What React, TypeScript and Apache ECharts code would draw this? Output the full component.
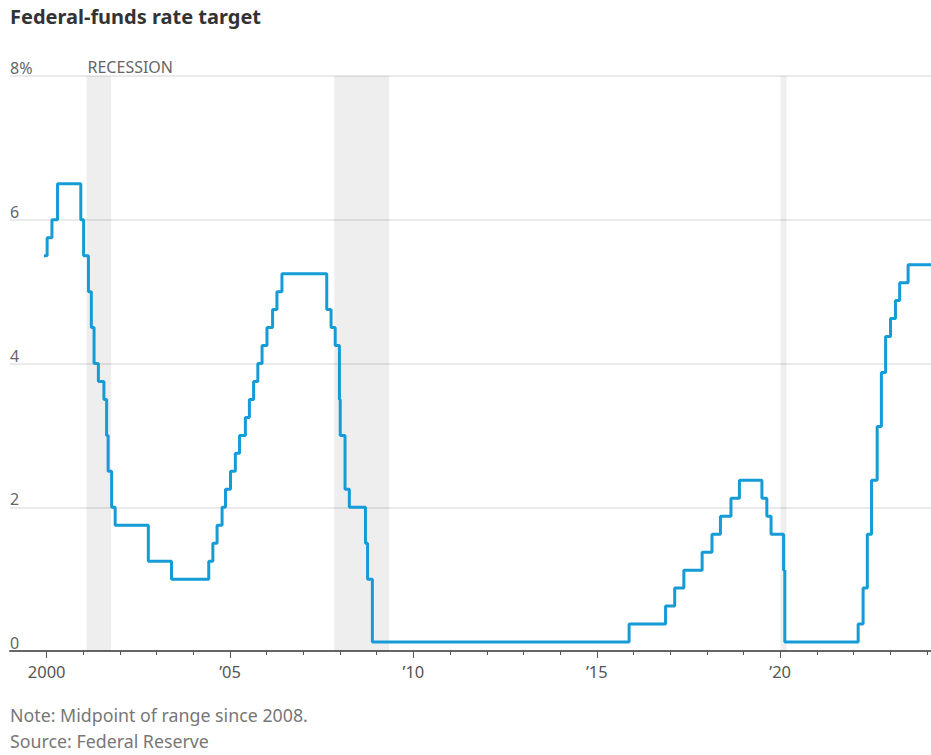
import React, { useEffect, useRef } from "react";
import * as echarts from "echarts";

// Fed funds target (midpoint of the target range from Dec. 2008), effective dates
const changeDates: string[] = [
  "2000-01-01", "2000-02-02", "2000-03-21", "2000-05-16",
  "2001-01-03", "2001-01-31", "2001-03-20", "2001-04-18", "2001-05-15", "2001-06-27",
  "2001-08-21", "2001-09-17", "2001-10-02", "2001-11-06", "2001-12-11",
  "2002-11-06", "2003-06-25",
  "2004-06-30", "2004-08-10", "2004-09-21", "2004-11-10", "2004-12-14",
  "2005-02-02", "2005-03-22", "2005-05-03", "2005-06-30", "2005-08-09", "2005-09-20",
  "2005-11-01", "2005-12-13",
  "2006-01-31", "2006-03-28", "2006-05-10", "2006-06-29",
  "2007-09-18", "2007-10-31", "2007-12-11",
  "2008-01-22", "2008-01-30", "2008-03-18", "2008-04-30", "2008-10-08", "2008-10-29",
  "2008-12-16",
  "2015-12-16", "2016-12-14",
  "2017-03-15", "2017-06-14", "2017-12-13",
  "2018-03-21", "2018-06-13", "2018-09-26", "2018-12-19",
  "2019-07-31", "2019-09-18", "2019-10-30",
  "2020-03-03", "2020-03-15",
  "2022-03-16", "2022-05-04", "2022-06-15", "2022-07-27", "2022-09-21", "2022-11-02",
  "2022-12-14",
  "2023-02-01", "2023-03-22", "2023-05-03", "2023-07-26",
  "2024-03-10",
];

const targetRates: number[] = [
  5.5, 5.75, 6.0, 6.5,
  6.0, 5.5, 5.0, 4.5, 4.0, 3.75,
  3.5, 3.0, 2.5, 2.0, 1.75,
  1.25, 1.0,
  1.25, 1.5, 1.75, 2.0, 2.25,
  2.5, 2.75, 3.0, 3.25, 3.5, 3.75,
  4.0, 4.25,
  4.5, 4.75, 5.0, 5.25,
  4.75, 4.5, 4.25,
  3.5, 3.0, 2.25, 2.0, 1.5, 1.0,
  0.125,
  0.375, 0.625,
  0.875, 1.125, 1.375,
  1.625, 1.875, 2.125, 2.375,
  2.125, 1.875, 1.625,
  1.125, 0.125,
  0.375, 0.875, 1.625, 2.375, 3.125, 3.875,
  4.375,
  4.625, 4.875, 5.125, 5.375,
  5.375,
];

// NBER recessions (start month, end month)
const recessions: [string, string][] = [
  ["2001-03-01", "2001-11-01"],
  ["2007-12-01", "2009-06-01"],
  ["2020-02-01", "2020-04-01"],
];

const yTicks: number[] = [0, 2, 4, 6, 8];
const labelYears: number[] = [2000, 2005, 2010, 2015, 2020];
const tickYears: number[] = [
  2000, 2001, 2002, 2003, 2004, 2005, 2006, 2007, 2008, 2009, 2010, 2011, 2012,
  2013, 2014, 2015, 2016, 2017, 2018, 2019, 2020, 2021, 2022, 2023, 2024,
];

// Year ticks sit a few weeks after the turn of each year
const TICK_SHIFT = 0.075;
const X_MIN = 1999 + TICK_SHIFT;

function toYear(s: string): number {
  const [y, m, d] = s.split("-").map(Number);
  const start = Date.UTC(y, 0, 1);
  const end = Date.UTC(y + 1, 0, 1);
  return y + (Date.UTC(y, m - 1, d) - start) / (end - start);
}

const FONT = "'Noto Sans', 'Open Sans', sans-serif";

export default function App() {
  const ref = useRef<HTMLDivElement>(null);

  useEffect(() => {
    if (!ref.current) return;
    const chart = echarts.init(ref.current, undefined, { renderer: "svg" });

    const seriesData = changeDates.map((d, i) => [toYear(d), targetRates[i]]);
    const xMax = toYear(changeDates[changeDates.length - 1]);

    const yearLabel = (v: number) => {
      const y = Math.round(v - TICK_SHIFT);
      return y === 2000 ? "2000" : "\u2019" + String(y % 100).padStart(2, "0");
    };

    chart.setOption({
      animation: false,
      title: {
        text: "Federal-funds rate target",
        left: 10,
        top: 6,
        padding: 0,
        textStyle: { fontFamily: FONT, fontSize: 20, fontWeight: "bold", color: "#333" },
      },
      grid: { left: 10, right: 0, top: 76, bottom: 104, containLabel: false },
      xAxis: [
        {
          type: "value",
          min: X_MIN,
          max: xMax,
          axisLine: { show: true, lineStyle: { color: "#666", width: 2 } },
          axisTick: {
            show: true,
            length: 4,
            customValues: tickYears.map((y) => y + TICK_SHIFT),
            lineStyle: { color: "#555", width: 1 },
          },
          axisLabel: {
            show: true,
            customValues: labelYears.map((y) => y + TICK_SHIFT),
            formatter: yearLabel,
            margin: 12,
            fontFamily: FONT,
            fontSize: 16.5,
            color: "#555",
          },
          splitLine: { show: false },
        },
        {
          type: "value",
          position: "bottom",
          min: X_MIN,
          max: xMax,
          axisLine: { show: false },
          axisTick: {
            show: true,
            length: 7,
            customValues: labelYears.map((y) => y + TICK_SHIFT),
            lineStyle: { color: "#555", width: 1 },
          },
          axisLabel: { show: false },
          splitLine: { show: false },
        },
      ],
      yAxis: {
        type: "value",
        min: 0,
        max: 8,
        interval: 2,
        axisLine: { show: false },
        axisTick: { show: false },
        axisLabel: {
          inside: true,
          margin: 0,
          align: "left",
          verticalAlign: "bottom",
          padding: [0, 0, 0, 0],
          fontFamily: FONT,
          fontSize: 16,
          color: "#666",
          formatter: (v: number) => (v === yTicks[yTicks.length - 1] ? v + "%" : String(v)),
        },
        splitLine: { show: true, lineStyle: { color: "#eaeaea", width: 2 } },
      },
      graphic: [
        {
          type: "text",
          left: 10,
          top: 706,
          style: {
            text: "Note: Midpoint of range since 2008.",
            font: `17.8px ${FONT}`,
            fill: "#777",
          },
        },
        {
          type: "text",
          left: 10,
          top: 732,
          style: {
            text: "Source: Federal Reserve",
            font: `17.8px ${FONT}`,
            fill: "#777",
          },
        },
      ],
      series: [
        {
          type: "line",
          step: "end",
          data: seriesData,
          showSymbol: false,
          symbol: "none",
          lineStyle: { color: "#159bd6", width: 3 },
          clip: true,
          markArea: {
            silent: true,
            itemStyle: { color: "rgba(0,0,0,0.065)" },
            data: recessions.map(([a, b], i) => [
              {
                xAxis: toYear(a),
                label:
                  i === 0
                    ? {
                        show: true,
                        formatter: "RECESSION",
                        position: [1, -1],
                        align: "left",
                        verticalAlign: "bottom",
                        fontFamily: FONT,
                        fontSize: 16,
                        color: "#666",
                      }
                    : { show: false },
              },
              { xAxis: toYear(b) },
            ]),
          },
        },
      ],
    });

    return () => chart.dispose();
  }, []);

  return (
    <div
      ref={ref}
      style={{ position: "absolute", left: 0, top: 0, width: 931, height: 755 }}
    />
  );
}
